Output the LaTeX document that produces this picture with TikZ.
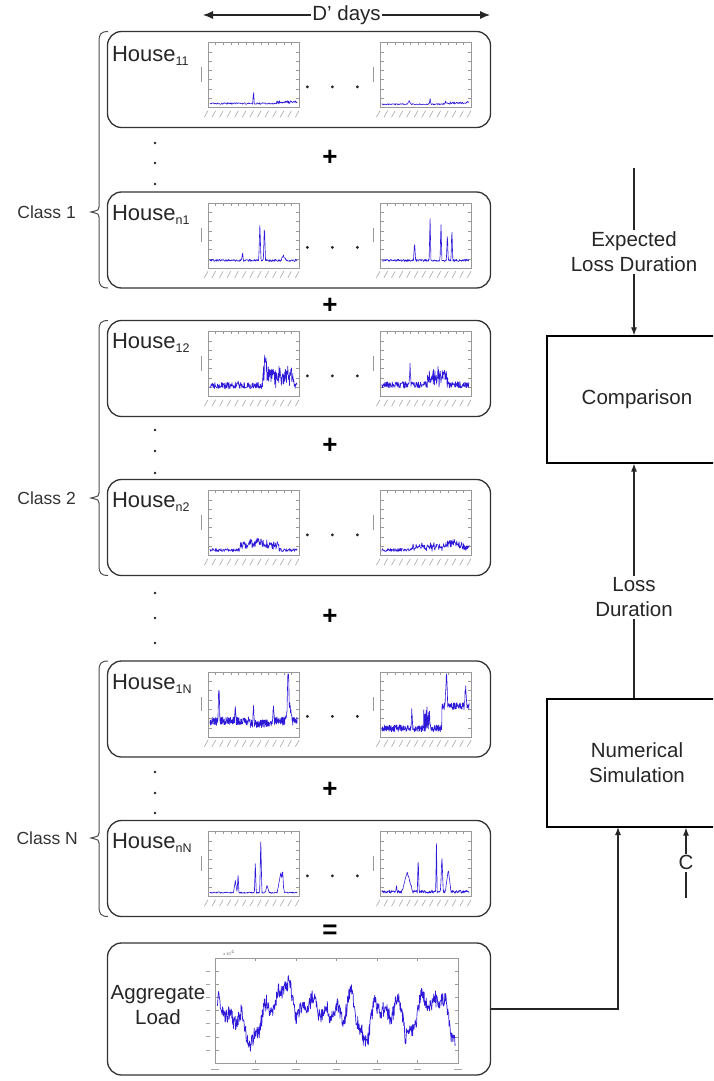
\documentclass[tikz,border=0pt]{standalone}
\usepackage{fontspec}
\setmainfont{Liberation Sans}
\usetikzlibrary{arrows.meta,calc}

% subscript of a house name
\newcommand\hsub[1]{\raisebox{-4pt}{\fontsize{12.5}{12}\selectfont #1}}

% small load curve in a framed axis box
% #1 left edge, #2 bottom edge, #3 seed, #4 samples, #5 curve as a function of \x on [0,1]
\newcommand\loadplot[5]{%
  \begin{scope}[shift={(#1,#2)}, xscale=91, yscale=-65]
    \pgfmathsetseed{#3}
    \draw[plotframe] (0,0) rectangle (1,1);
    \foreach \k in {1,...,6} \draw[plotframe] (0,\k/7) -- ++(0.04,0) (1,\k/7) -- ++(-0.03,0);
    \foreach \k in {0,...,12} {\draw[plotframe] (\k/12,1) -- ++(0,-0.04);
      \draw[ticklab] (\k/12,-0.05) -- ++(-0.04,-0.1);}
    \draw[plotframe] (-0.08,0.4) -- (-0.08,0.62);
    \draw[loadtrace] plot[domain=0.02:0.98, samples=#4] (\x,{max(0.01,min(0.97,#5))});
  \end{scope}}

% class brace: top, bottom, tip height
\newcommand\classbrace[3]{%
  \draw[bracestyle] (108,#1) .. controls (101,#1) and (99,#1+3) .. (99,#1+9)
    -- (99,#3-5) .. controls (99,#3-2) .. (91,#3) .. controls (99,#3+2) .. (99,#3+5)
    -- (99,#2-9) .. controls (99,#2-3) and (101,#2) .. (108,#2);}

\tikzset{
  declare function={spk(\qa,\qb,\qc,\qd)=\qd*max(0,1-abs(\qa-\qb)/\qc);},
  housebox/.style={draw=black!80, line width=1.3pt, rounded corners=14pt,
    minimum width=383pt, minimum height=96pt, inner sep=0pt},
  procbox/.style={draw=black, line width=1.2pt, minimum width=180pt, inner sep=0pt},
  lbl/.style={font=\fontsize{20.5}{25}\selectfont, align=center, text=black!85},
  hname/.style={font=\fontsize{22}{24}\selectfont, anchor=base west, inner sep=0pt, text=black!85},
  cname/.style={font=\fontsize{17.5}{20}\selectfont, anchor=east, inner sep=0pt, text=black!80},
  plotframe/.style={draw=black!40, line width=0.4pt},
  ticklab/.style={draw=black!35, line width=0.6pt},
  loadtrace/.style={draw={rgb,255:red,45;green,25;blue,215}, line width=0.6pt, line join=round},
  flow/.style={draw=black!85, line width=1.1pt},
  flowarrow/.style={-{Latex[length=8pt,width=6pt]}},
  bracestyle/.style={draw=black!70, line width=1pt},
  op/.style={font=\fontsize{26}{26}\selectfont\bfseries, inner sep=0pt},
  dot/.style={fill=black!85}
}

\begin{document}
\begin{tikzpicture}[x=1pt, y=-1pt]
\useasboundingbox (0,0) rectangle (713,1081);
\clip (0,0) rectangle (713,1081);

% span of the recorded days
\coordinate (dl) at (203,15);
\coordinate (dr) at (490,15);
\draw[flow, {Latex[length=10pt,width=8pt]}-{Latex[length=10pt,width=8pt]}]
  (dl) -- node[lbl, fill=white, inner sep=1pt] (dd) {D’ days} (dr);

% house boxes
\node[housebox] (h11) at (299,79.5) {};
\node[housebox] (hn1) at (299,240) {};
\node[housebox] (h12) at (299,368.5) {};
\node[housebox] (hn2) at (299,527.5) {};
\node[housebox] (h1N) at (299,709) {};
\node[housebox] (hnN) at (299,868.5) {};
\node[housebox, minimum height=132pt] (agg) at (299,1009) {};

\node[hname] (l11) at ($(h11.north west)+(5,31)$) {House\hsub{11}};
\node[hname] (ln1) at ($(hn1.north west)+(5,29)$) {House\hsub{n1}};
\node[hname] (l12) at ($(h12.north west)+(5,29)$) {House\hsub{12}};
\node[hname] (ln2) at ($(hn2.north west)+(5,29)$) {House\hsub{n2}};
\node[hname] (l1N) at ($(h1N.north west)+(5,29)$) {House\hsub{1N}};
\node[hname] (lnN) at ($(hnN.north west)+(5,29)$) {House\hsub{nN}};
\node[lbl] (agglbl) at (158,1005) {Aggregate\\Load};

% daily load curves
\loadplot{208}{107.5}{11}{160}{0.05+0.025*rnd+spk(\x,0.5,0.008,0.24)+0.04*(\x>0.75)*rnd}
\loadplot{380}{107.5}{12}{160}{0.04+0.02*rnd+spk(\x,0.55,0.01,0.09)+spk(\x,0.32,0.02,0.05)+0.04*(\x>0.7)*rnd}

\loadplot{208}{268}{21}{200}{0.1+0.035*rnd+spk(\x,0.57,0.012,0.55)+spk(\x,0.62,0.012,0.55)+spk(\x,0.38,0.01,0.14)+spk(\x,0.83,0.03,0.07)}
\loadplot{380}{268}{22}{200}{0.1+0.035*rnd+spk(\x,0.55,0.01,0.66)+spk(\x,0.67,0.01,0.6)+spk(\x,0.74,0.01,0.45)+spk(\x,0.79,0.01,0.5)+spk(\x,0.38,0.012,0.28)}

\loadplot{208}{396.5}{31}{260}{0.12+0.1*rnd+(\x>0.6)*(\x<0.95)*0.3*rnd+spk(\x,0.63,0.02,0.35)+spk(\x,0.33,0.01,0.1)}
\loadplot{380}{396.5}{32}{260}{0.13+0.1*rnd+(\x>0.52)*(\x<0.75)*0.25*rnd+spk(\x,0.33,0.01,0.32)}

\loadplot{208}{555.5}{41}{220}{0.06+0.05*rnd+(\x>0.35)*(\x<0.78)*0.12*rnd+spk(\x,0.55,0.15,0.07)}
\loadplot{380}{555.5}{42}{220}{0.06+0.05*rnd+(\x>0.35)*0.1*rnd+spk(\x,0.8,0.12,0.07)}

\loadplot{208}{737}{51}{380}{0.18+0.13*rnd-0.04*(\x>0.45)*(\x<0.7)+spk(\x,0.12,0.012,0.55)+spk(\x,0.88,0.012,0.8)+spk(\x,0.89,0.04,0.3)+spk(\x,0.5,0.01,0.3)+spk(\x,0.3,0.01,0.18)+spk(\x,0.72,0.01,0.28)}
\loadplot{380}{737}{52}{380}{0.08+0.11*rnd+0.34*(\x>0.68)+spk(\x,0.73,0.015,0.55)+spk(\x,0.94,0.015,0.3)+(\x>0.48)*(\x<0.55)*0.3*rnd+spk(\x,0.35,0.01,0.3)}

\loadplot{208}{896.5}{61}{220}{0.05+0.02*rnd+spk(\x,0.3,0.02,0.18)+spk(\x,0.33,0.01,0.3)+spk(\x,0.52,0.01,0.48)+spk(\x,0.58,0.012,0.82)+spk(\x,0.65,0.02,0.12)+spk(\x,0.8,0.04,0.3)+spk(\x,0.82,0.01,0.2)}
\loadplot{380}{896.5}{62}{220}{0.05+0.045*rnd+spk(\x,0.3,0.06,0.3)+spk(\x,0.42,0.01,0.55)+spk(\x,0.62,0.008,0.75)+spk(\x,0.68,0.015,0.55)+spk(\x,0.75,0.03,0.35)+spk(\x,0.18,0.01,0.1)}

% aggregate load curve
\begin{scope}[shift={(215,1063)}, xscale=243, yscale=-105]
  \pgfmathsetseed{7}
  \draw[plotframe] (0,0) rectangle (1,1);
  \foreach \k in {1,...,7} \draw[plotframe] (0,\k/8) -- ++(0.015,0) (1,\k/8) -- ++(-0.012,0);
  \foreach \k in {0,...,6} {\draw[plotframe] (\k/6,1) -- ++(0,-0.025) (\k/6,0) -- ++(0,0.025);
    \draw[ticklab] (\k/6-0.015,-0.06) -- ++(0.03,0);}
  \foreach \k in {1,...,7} \draw[ticklab] (-0.035,\k/8) -- ++(0.015,0);
  \draw[loadtrace, line width=0.7pt] plot[domain=0.01:0.99, samples=560]
    (\x,{max(0.05,min(0.92,0.42+0.14*sin(700*\x+200)+0.12*sin(1700*\x)+0.08*sin(3900*\x+30)+0.06*sin(7300*\x)+0.15*rnd-0.12*(\x>0.78)+spk(\x,0.56,0.05,0.3)-spk(\x,0.47,0.04,0.25)))});
\end{scope}
\node[font=\fontsize{4}{4}\selectfont, text=black!60, inner sep=0pt] (expo) at (229,953) {x 10$^4$};

% dots between the plots of one house
\foreach \b in {h11,hn1,h12,hn2,h1N,hnN}
  \foreach \dx in {308,333,358}
    \fill[dot] ($(\b.north west)+(\dx-107.5,56)$) circle (1.6);

% dots between houses of a class
\foreach \yy in {143,163,184, 430,451,473, 593,618,643, 772,793,813}
  \fill[dot] (155,\yy) circle (1.4);

% sums
\node[op] (p1) at (330,158) {+};
\node[op] (p2) at (330,306) {+};
\node[op] (p3) at (330,446) {+};
\node[op] (p4) at (330,617) {+};
\node[op] (p5) at (330,790) {+};
\node[op] (eq) at (330,932) {=};

% classes
\classbrace{31.5}{288}{212}
\classbrace{320.5}{575.5}{498}
\classbrace{661}{916.5}{838}
\node[cname] (c1) at (76,212) {Class 1};
\node[cname] (c2) at (76,498) {Class 2};
\node[cname] (cN) at (78,838) {Class N};

% processing chain
\node[procbox, minimum height=127pt, lbl] (cmp) at (637,399.5) {Comparison};
\node[procbox, minimum height=128pt, lbl] (sim) at (637,763) {Numerical\\Simulation};

\coordinate (eld) at (634,168);
\draw[flow, flowarrow] (eld) -- node[lbl, fill=white, inner sep=2pt] (eldl) {Expected\\Loss Duration} (eld |- cmp.north);
\draw[flow, flowarrow] (eld |- sim.north) -- node[lbl, fill=white, inner sep=2pt, pos=0.43] (ldl) {Loss\\Duration} (eld |- cmp.south);

\coordinate (simin) at (618,827);
\draw[flow, flowarrow] (agg.east) -| (simin);
\coordinate (cfoot) at (686,898);
\draw[flow, flowarrow] (cfoot) -- node[lbl, fill=white, inner sep=2pt] (cl) {C} (cfoot |- sim.south);
\end{tikzpicture}
\end{document}
